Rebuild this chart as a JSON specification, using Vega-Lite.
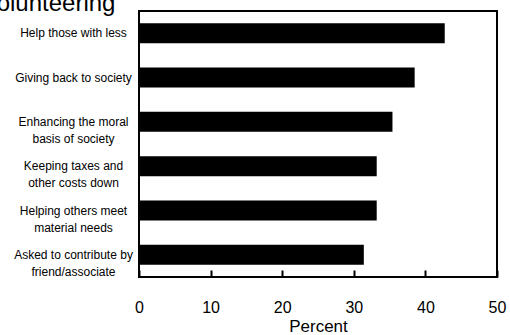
{
  "$schema": "https://vega.github.io/schema/vega-lite/v6.json",
  "width": 358,
  "height": 266,
  "autosize": {"type": "none"},
  "padding": {"left": 139, "top": 11, "right": 13, "bottom": 58},
  "background": "white",
  "config": {
    "font": "Liberation Sans",
    "view": {"stroke": "black", "strokeWidth": 2}
  },
  "title": {
    "text": "Volunteering",
    "anchor": "start",
    "frame": "group",
    "orient": "top",
    "offset": 0,
    "dx": -157,
    "dy": 24,
    "baseline": "alphabetic",
    "fontSize": 24,
    "fontWeight": "normal",
    "font": "Liberation Sans",
    "color": "black"
  },
  "data": {
    "values": [
      {"reason": "Help those with less", "percent": 42.7},
      {"reason": "Giving back to society", "percent": 38.5},
      {"reason": "Enhancing the moral|basis of society", "percent": 35.4},
      {"reason": "Keeping taxes and|other costs down", "percent": 33.2},
      {"reason": "Helping others meet|material needs", "percent": 33.2},
      {"reason": "Asked to contribute by|friend/associate", "percent": 31.4}
    ]
  },
  "mark": {"type": "bar", "color": "black"},
  "encoding": {
    "y": {
      "field": "reason",
      "type": "nominal",
      "sort": null,
      "scale": {"paddingInner": 0.55, "paddingOuter": 0.275},
      "axis": {
        "title": null,
        "domain": false,
        "ticks": false,
        "tickSize": 0,
        "labelExpr": "split(datum.label, '|')",
        "labelAlign": "center",
        "labelBaseline": "middle",
        "labelPadding": 66,
        "labelFontSize": 12,
        "labelLineHeight": 17,
        "labelColor": "black",
        "labelLimit": 200
      }
    },
    "x": {
      "field": "percent",
      "type": "quantitative",
      "scale": {"domain": [0, 50], "nice": false},
      "axis": {
        "title": "Percent",
        "values": [0, 10, 20, 30, 40, 50],
        "grid": false,
        "domain": false,
        "tickSize": -7,
        "tickWidth": 2,
        "tickColor": "black",
        "labelFontSize": 16,
        "labelColor": "black",
        "labelBaseline": "alphabetic",
        "labelPadding": 42,
        "labelFlush": false,
        "titleFontSize": 17,
        "titleFontWeight": "normal",
        "titleColor": "black",
        "titleBaseline": "alphabetic",
        "titlePadding": 16
      }
    }
  }
}
